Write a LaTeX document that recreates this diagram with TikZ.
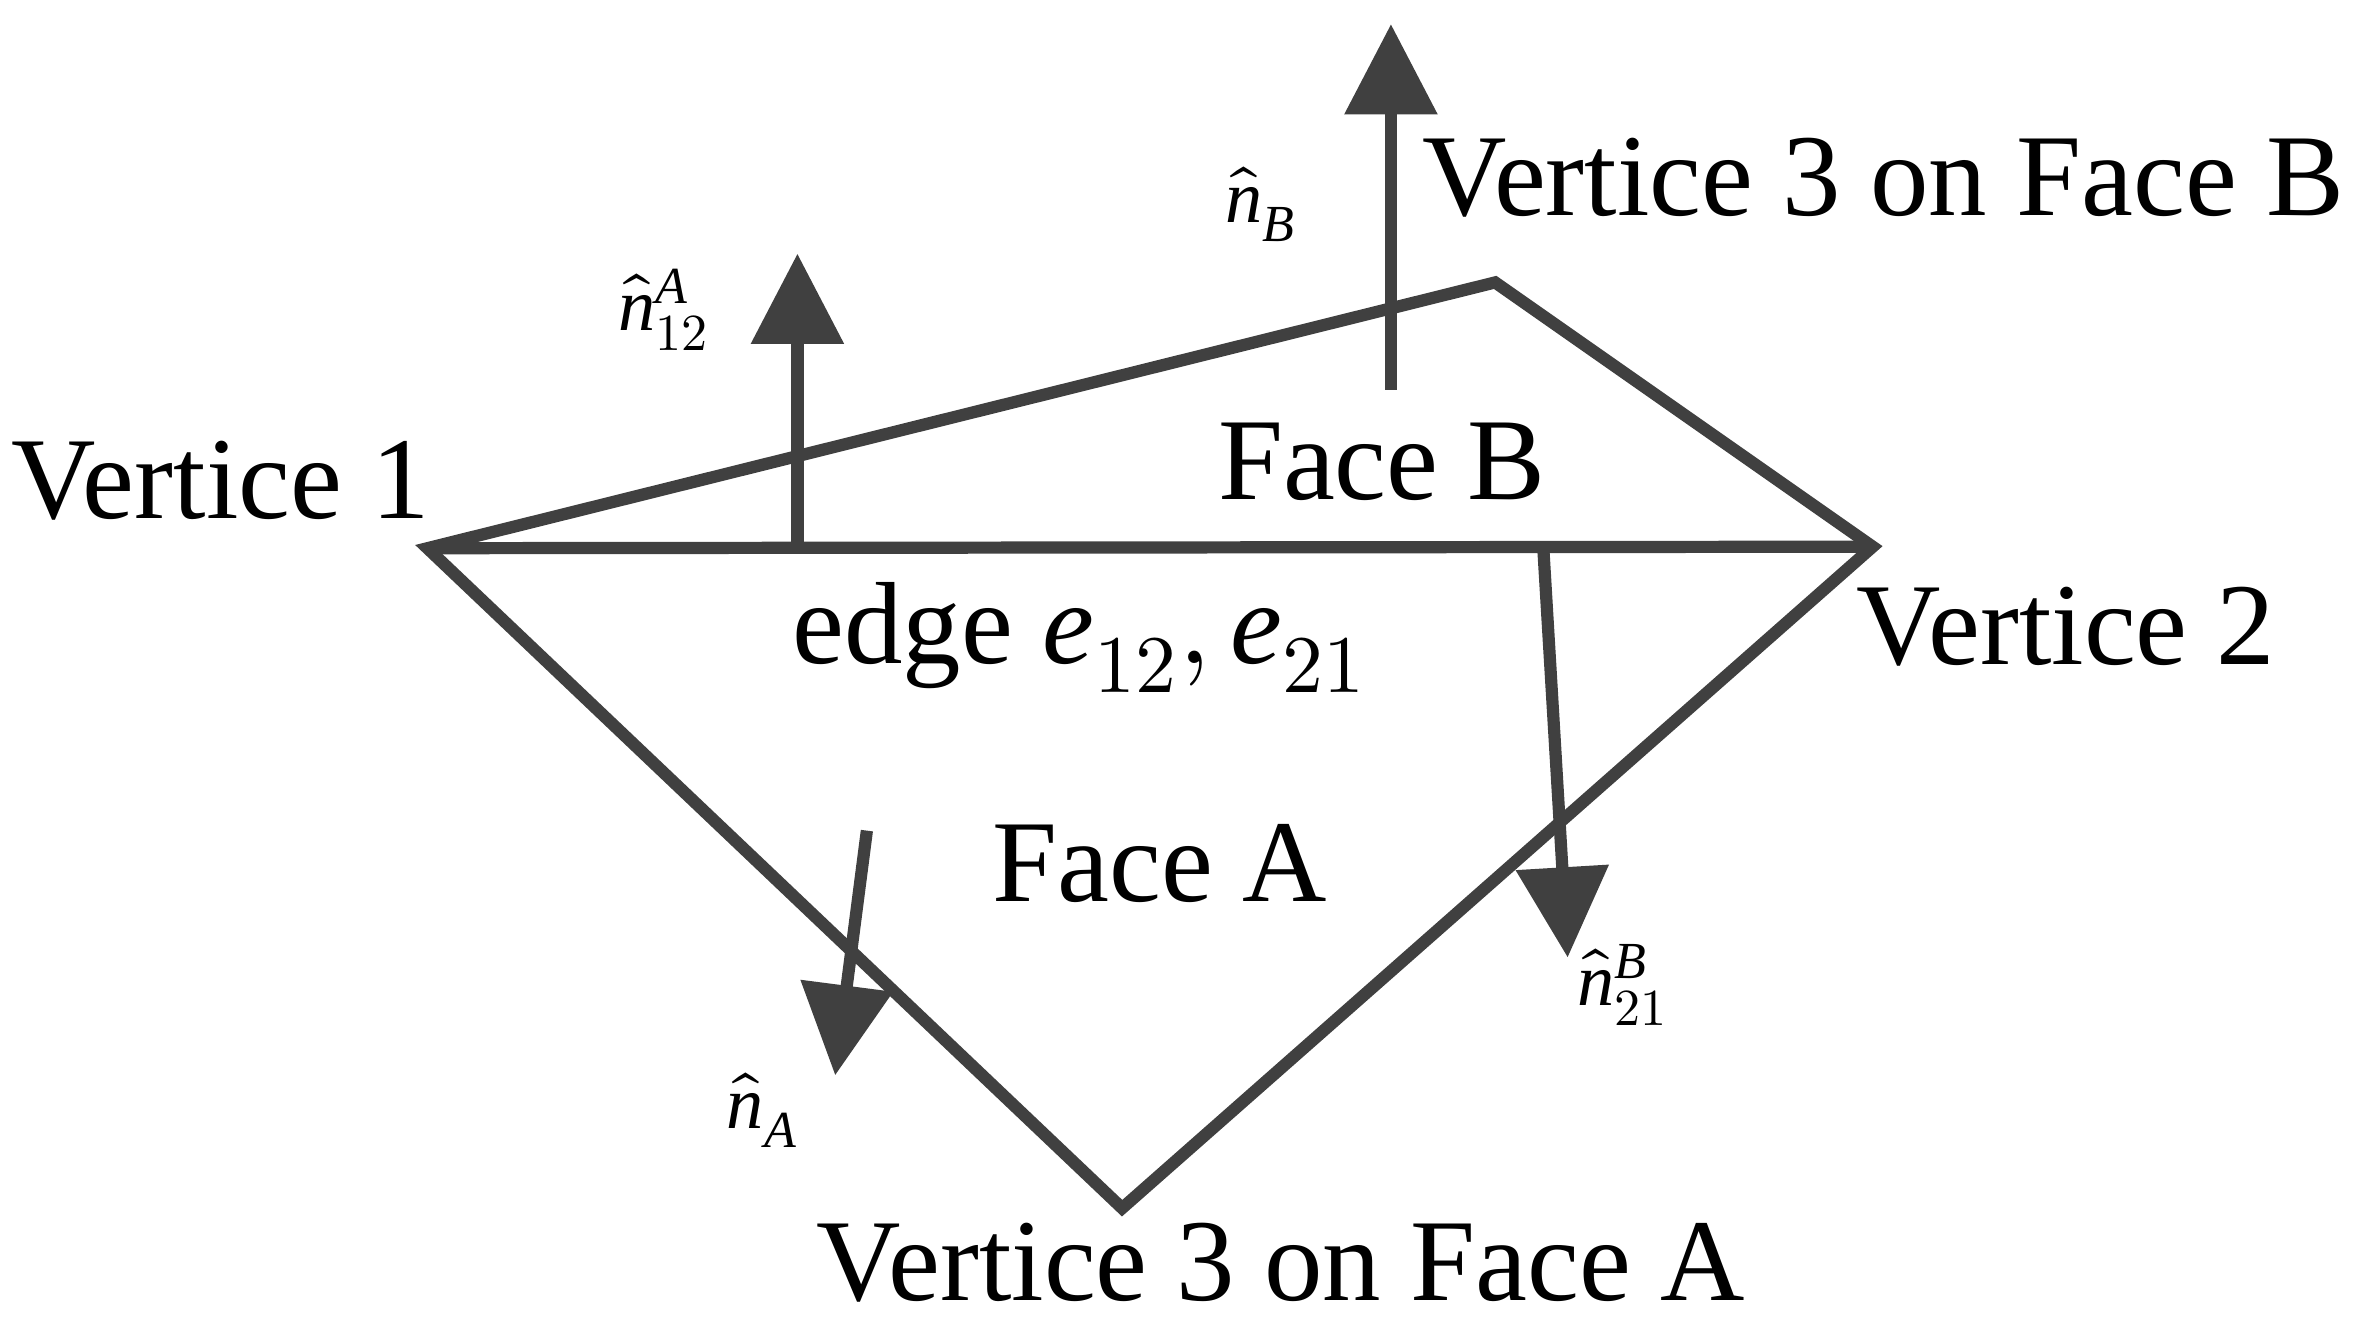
\documentclass[tikz,border=0pt]{standalone}
\usepackage{fontspec}
\setmainfont{Liberation Serif}
\usepackage{unicode-math}
\setmathfont{Latin Modern Math}
\setmathfont[range=it]{Liberation Serif Italic}
\usetikzlibrary{calc}
\usetikzlibrary{arrows.meta}
\definecolor{edgegray}{HTML}{404040}

\begin{document}
\begin{tikzpicture}[x=0.01cm,y=-0.01cm,
    edge/.style={edgegray,line width=2.3pt,line join=miter},
    normal/.style={edgegray,line width=2.3pt,-{Triangle[width=17pt,length=17pt]}},
    big/.style={font=\fontsize{22}{26}\selectfont},
    small/.style={font=\fontsize{14}{16}\selectfont}]
    \useasboundingbox (0,0) rectangle (1560,880);

    \coordinate (V1) at (283,363);
    \coordinate (V2) at (1240,362);
    \coordinate (VB) at (990,187);
    \coordinate (VA) at (743,800);

    \coordinate (N0) at (528,362);
    \coordinate (N1) at (528,168);
    \coordinate (N2) at (921,258);
    \coordinate (N3) at (921,16);
    \coordinate (N4) at (1022,365);
    \coordinate (N5) at (1038,634);
    \coordinate (N6) at (574,550);
    \coordinate (N7) at (553,712);

     \draw [edge] (V1) -- (VB) -- (V2) -- (VA) -- cycle;
     \draw [edge] (V1) -- (V2);

     \draw [normal] (N0) -- (N1);
     \draw [normal] (N2) -- (N3);
     \draw [normal] (N4) -- (N5);
     \draw [normal] (N6) -- (N7);

     \node [big] (v1) at (146,318) {Vertice 1};
     \node [big] (v2) at (1368,415) {Vertice 2};
     \node [big] (v3b) at (1247,118) {Vertice 3 on Face B};
     \node [big] (v3a) at (848,836) {Vertice 3 on Face A};
     \node [big] (fb) at (915,306) {Face B};
     \node [big] (fa) at (768,572) {Face A};
     \node [big] (ed) at (715,422) {edge $e_{12},e_{21}$};

     \node [small] (nb) at (835,135) {$\hat{n}_{B}$};
     \node [small] (n12) at (440,205) {$\hat{n}_{12}^{A}$};
     \node [small] (n21) at (1075,652) {$\hat{n}_{21}^{B}$};
     \node [small] (na) at (505,735) {$\hat{n}_{A}$};
  \end{tikzpicture}
\end{document}
